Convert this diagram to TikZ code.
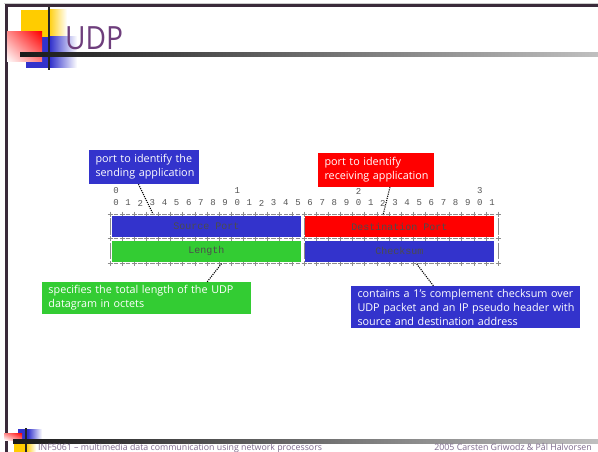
\documentclass[tikz,border=0pt]{standalone}
\usepackage{fontspec}
\setmainfont{Open Sans}
\newfontfamily\monofont{Liberation Mono}
\usetikzlibrary{calc,shadings}

\definecolor{fieldblue}{RGB}{51,51,204}
\definecolor{fieldred}{RGB}{255,0,0}
\definecolor{fieldgreen}{RGB}{51,204,51}
\definecolor{titlepurple}{RGB}{110,62,124}
\definecolor{framedark}{RGB}{58,42,58}
\definecolor{rulergray}{RGB}{85,85,85}
\definecolor{asciigray}{RGB}{140,140,140}
\definecolor{footerpurple}{RGB}{125,105,140}
\definecolor{decoyellow}{RGB}{255,204,0}
\definecolor{decoblue}{RGB}{51,51,204}

\tikzset{
  digit/.style={font=\monofont\fontsize{9}{9}\selectfont, text=rulergray, inner sep=0pt},
  field/.style={font=\monofont\fontsize{10}{10}\selectfont, text=black!70, inner sep=0pt},
  note/.style={font=\fontsize{10.8}{14}\selectfont, text=white, align=left, inner xsep=6.5pt, inner ysep=0pt},
  pointer/.style={line width=1.1pt, dash pattern=on 1.1pt off 1.1pt},
  asciiline/.style={draw=asciigray, line width=0.7pt},
  footer/.style={font=\fontsize{8.8}{9}\selectfont, text=footerpurple, inner sep=0pt},
}

\begin{document}
\begin{tikzpicture}[x=1pt,y=-1pt]
\useasboundingbox (0,0) rectangle (598,452);
\clip (0,0) rectangle (598,452);
\fill[white] (0,0) rectangle (598,452);

% slide frame
\fill[black!20] (4,3) rectangle (598,4.5);
\fill[framedark] (5,4.5) rectangle (598,7.5);
\fill[framedark] (5,4.5) rectangle (7.5,452);

% title ornament
\fill[decoyellow] (21,10) rectangle (48,37);
\shade[left color=decoyellow, right color=white] (47.9,10) rectangle (67,37);
\fill[decoblue] (26,37) rectangle (50,68);
\shade[left color=decoblue, right color=white] (49.9,37) rectangle (77,68);
\shade[upper left=red!45, upper right=red, lower left=white, lower right=red!50] (7,32) rectangle (42,62);
\draw[line width=2pt, black!85] (49,7) -- (49,70);
\shade[left color=black!90, right color=black!25] (20,52.5) rectangle (598,57);

\node[anchor=base west, font=\fontsize{32}{32}\selectfont, text=titlepurple, xscale=0.88, inner sep=0pt] (title) at (65,50) {UDP};

% bit ruler
\foreach \i in {0,...,31} {
  \pgfmathtruncatemacro\d{mod(\i,10)}
  \node[digit] (bit\i) at (116+12.13*\i,203) {\d};
}
\foreach \i/\t in {0/0,10/1,20/2,30/3}
  \node[digit] (dec\t) at (116+12.13*\i,191) {\t};

% ascii style frame of the header
\foreach \yy in {214,238.5,263} {
  \foreach \i in {0,...,32} {
    \draw[asciiline] (110+12.13*\i-2.5,\yy) -- ++(5,0);
    \draw[asciiline] (110+12.13*\i,\yy-2.5) -- ++(0,5);
  }
  \foreach \i in {0,...,31}
    \draw[asciiline] (110+12.13*\i+3.8,\yy) -- ++(4.5,0);
}
\foreach \xx in {110,304.1,498.2}
  \foreach \ya/\yb in {214/238.5,238.5/263} {
    \draw[asciiline] (\xx,\ya+4) -- (\xx,\yb-4);
  }

% header fields
\node[field, fill=fieldblue, minimum width=189pt, minimum height=21pt] (src) at (206.5,226.5) {Source Port};
\node[field, fill=fieldred, minimum width=189pt, minimum height=21pt] (dst) at (399.5,226.5) {Destination Port};
\node[field, fill=fieldgreen, minimum width=189pt, minimum height=21pt] (len) at (206.5,251) {Length};
\node[field, fill=fieldblue, minimum width=189pt, minimum height=21pt] (chk) at (399.5,251) {Checksum};

% explanatory notes (each line kept whole)
\node[note, fill=fieldblue, minimum width=110pt, minimum height=34pt, text width=97pt] (sendnote) at (144,167)
  {\mbox{port to identify the}\\\mbox{sending application}};
\node[note, fill=fieldred, minimum width=116pt, minimum height=34pt, text width=103pt] (recvnote) at (376,170)
  {\mbox{port to identify}\\\mbox{receiving application}};
\node[note, fill=fieldgreen, minimum width=209pt, minimum height=32pt, text width=196pt] (lennote) at (146.5,298)
  {\mbox{specifies the total length of the UDP}\\\mbox{datagram in octets}};
\node[note, fill=fieldblue, minimum width=229pt, minimum height=42pt, text width=216pt] (chknote) at (465.5,307)
  {\mbox{contains a 1's complement checksum over}\\\mbox{UDP packet and an IP pseudo header with}\\\mbox{source and destination address}};

% pointers from notes to fields
\coordinate (srcpin) at (153,214);
\coordinate (dstpin) at (383,215);
\coordinate (lenpin) at (222,263);
\coordinate (chkpin) at (416,263);
\draw[pointer] ($(sendnote.south west)!0.45!(sendnote.south east)$) -- (srcpin);
\draw[pointer] ($(recvnote.south west)!0.62!(recvnote.south east)$) -- (dstpin);
\draw[pointer] ($(lennote.north west)!0.79!(lennote.north east)$) -- (lenpin);
\draw[pointer] ($(chknote.north west)!0.36!(chknote.north east)$) -- (chkpin);

% footer ornament
\fill[decoyellow] (14,443) rectangle (26,452);
\shade[left color=decoyellow, right color=white] (25.9,443) rectangle (36,452);
\fill[decoblue] (18,429) rectangle (28,440);
\shade[left color=decoblue, right color=white] (27.9,429) rectangle (42,440);
\shade[upper left=red!45, upper right=red, lower left=white, lower right=red!50] (4,433) rectangle (22,440);
\draw[line width=1.8pt, black!85] (26,428) -- (26,452);
\shade[left color=black!90, right color=black!25] (13,439) rectangle (598,443);

\node[footer, anchor=base west] (footleft) at (38,450) {INF5061 – multimedia data communication using network processors};
\node[footer, anchor=base east] (footright) at (592,450) {2005 Carsten Griwodz \& Pål Halvorsen};
\end{tikzpicture}
\end{document}
